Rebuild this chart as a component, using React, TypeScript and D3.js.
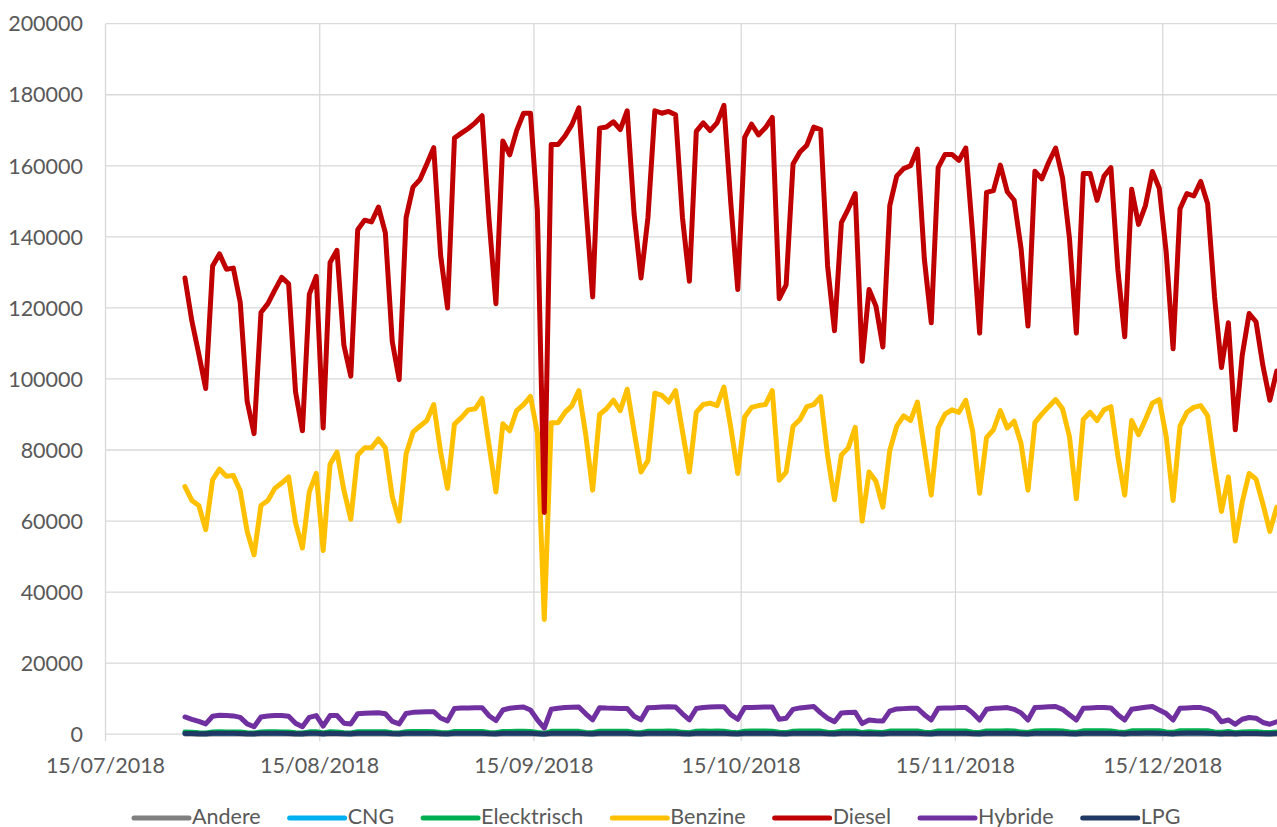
import React from 'react';
import * as d3 from 'd3';

// ---- categories / ticks ----
const START_DATE = '26/07/2018';
const DAY_COUNT = 159; // daily observations 26/07/2018 .. 31/12/2018
const AXIS_START = '15/07/2018';
const AXIS_END = '15/01/2019';
const xTickLabels = ['15/07/2018', '15/08/2018', '15/09/2018', '15/10/2018', '15/11/2018', '15/12/2018'];
const yTicks = [0, 20000, 40000, 60000, 80000, 100000, 120000, 140000, 160000, 180000, 200000];

// ---- series values ----
const andere = [
  40, 36, 20, 15, 44, 45, 42,
  41, 37, 19, 14, 45, 46, 44,
  42, 38, 20, 15, 46, 47, 18,
  44, 40, 21, 16, 48, 49, 47,
  45, 41, 22, 16, 49, 50, 48,
  46, 42, 22, 17, 50, 51, 50,
  47, 43, 23, 17, 51, 52, 51,
  48, 44, 23, 11, 52, 53, 52,
  49, 45, 24, 18, 53, 54, 53,
  50, 46, 24, 18, 53, 54, 54,
  51, 46, 24, 18, 54, 55, 54,
  51, 47, 25, 19, 54, 55, 55,
  52, 47, 25, 19, 55, 56, 55,
  52, 48, 25, 19, 55, 56, 56,
  26, 38, 25, 19, 56, 57, 57,
  57, 49, 26, 19, 57, 57, 58,
  57, 50, 26, 19, 57, 58, 58,
  58, 50, 26, 20, 58, 58, 59,
  59, 51, 26, 20, 58, 59, 59,
  59, 51, 27, 20, 59, 59, 60,
  60, 52, 27, 20, 59, 60, 60,
  60, 52, 27, 21, 46, 20, 34,
  42, 41, 25, 20, 38,
];
const cng = [
  310, 290, 170, 130, 320, 330, 325,
  315, 295, 165, 125, 325, 335, 330,
  320, 300, 170, 130, 330, 340, 150,
  330, 310, 175, 135, 340, 345, 340,
  335, 315, 180, 135, 345, 350, 345,
  340, 320, 180, 140, 350, 355, 350,
  345, 320, 185, 140, 355, 360, 355,
  350, 325, 185, 90, 360, 365, 360,
  355, 330, 190, 145, 365, 370, 365,
  360, 335, 190, 145, 365, 370, 370,
  365, 340, 190, 145, 370, 375, 370,
  365, 340, 195, 150, 370, 375, 375,
  370, 345, 195, 150, 375, 380, 375,
  370, 345, 195, 150, 375, 380, 380,
  185, 265, 190, 145, 380, 385, 385,
  385, 350, 200, 150, 385, 385, 390,
  385, 355, 200, 150, 390, 390, 390,
  390, 355, 200, 155, 390, 395, 395,
  395, 360, 205, 155, 395, 395, 400,
  395, 360, 205, 155, 400, 400, 400,
  400, 365, 205, 155, 400, 405, 405,
  405, 365, 210, 160, 320, 160, 240,
  290, 285, 200, 160, 270,
];
const elecktrisch = [
  610, 580, 390, 330, 640, 660, 650,
  630, 600, 380, 320, 650, 670, 660,
  640, 610, 390, 330, 660, 680, 350,
  670, 650, 420, 360, 700, 720, 710,
  700, 680, 430, 370, 720, 740, 750,
  740, 720, 450, 380, 760, 780, 770,
  790, 760, 470, 400, 780, 790, 800,
  810, 780, 480, 250, 800, 820, 810,
  830, 800, 500, 410, 820, 840, 830,
  850, 820, 510, 420, 830, 850, 860,
  870, 840, 520, 430, 850, 870, 860,
  880, 850, 530, 440, 860, 880, 870,
  890, 860, 540, 450, 860, 880, 890,
  900, 870, 550, 460, 880, 890, 900,
  450, 700, 560, 460, 880, 900, 910,
  920, 880, 570, 470, 890, 910, 920,
  930, 900, 580, 480, 900, 920, 930,
  940, 910, 590, 490, 920, 940, 950,
  960, 920, 600, 500, 940, 950, 960,
  970, 930, 610, 510, 950, 970, 980,
  990, 950, 620, 520, 960, 980, 990,
  1000, 950, 640, 530, 760, 420, 600,
  700, 680, 520, 450, 640,
];
const benzine = [
  69700, 65800, 64400, 57600, 71600, 74600, 72600,
  72800, 68500, 57100, 50500, 64400, 65800, 69200,
  70700, 72400, 59500, 52400, 68300, 73400, 51700,
  76000, 79400, 68700, 60500, 78600, 80600, 80600,
  83100, 80600, 66800, 60000, 78900, 85000, 86700,
  88300, 92800, 79400, 69200, 87300, 89100, 91300,
  91600, 94500, 81400, 68200, 87400, 85400, 91100,
  92800, 95100, 84800, 32300, 87700, 87700, 90600,
  92500, 96700, 84300, 68700, 90000, 91600, 94000,
  91100, 97100, 85200, 73800, 77000, 96000, 95400,
  93500, 96700, 85200, 73800, 90600, 92800, 93200,
  92500, 97700, 86200, 73400, 89300, 92000, 92500,
  92800, 96700, 71500, 73800, 86700, 88600, 92200,
  92800, 95000, 78400, 66000, 78600, 80600, 86400,
  60000, 73800, 71200, 63900, 79900, 86700, 89600,
  88300, 93500, 80400, 67300, 86200, 90100, 91300,
  90600, 94000, 85200, 67800, 83500, 85700, 91100,
  86200, 88100, 81800, 68700, 87700, 90100, 92200,
  94200, 91600, 83800, 66300, 88600, 90600, 88300,
  91300, 92200, 78400, 67300, 88300, 84300, 88600,
  93200, 94200, 83800, 65800, 86700, 90600, 92000,
  92500, 89600, 75500, 62700, 72400, 54400, 65300,
  73400, 71800, 64800, 57100, 63900,
];
const diesel = [
  128400, 116300, 107000, 97300, 131800, 135200, 130900,
  131200, 121500, 93700, 84600, 118700, 121200, 125000,
  128600, 126800, 96400, 85400, 123900, 128900, 86200,
  132800, 136200, 109500, 100800, 142000, 144700, 144200,
  148400, 141100, 110500, 99800, 145400, 154000, 156100,
  160500, 165100, 134800, 120000, 167800, 169200, 170500,
  172100, 174100, 145000, 121200, 167000, 163100, 169900,
  174800, 174800, 147400, 62400, 166000, 166000, 168400,
  171600, 176300, 149300, 123100, 170600, 170900, 172400,
  170200, 175500, 146400, 128400, 145400, 175500, 174800,
  175300, 174400, 145400, 127500, 169700, 172100, 169900,
  172100, 177000, 149300, 125200, 168000, 171700, 168700,
  170700, 173600, 122600, 126500, 160500, 163900, 165800,
  170900, 170200, 131800, 113600, 144000, 147900, 152200,
  105000, 125200, 120500, 109000, 148800, 157100, 159200,
  160000, 164700, 133800, 115800, 159500, 163200, 163200,
  161500, 165000, 140600, 112900, 152500, 153000, 160200,
  152700, 150300, 136700, 114900, 158500, 156300, 161000,
  165000, 156600, 139600, 112900, 157800, 157800, 150300,
  157100, 159500, 130900, 111900, 153400, 143500, 148800,
  158400, 153700, 135700, 108500, 147900, 152200, 151500,
  155600, 149300, 123100, 103200, 115800, 85700, 106600,
  118400, 116100, 103700, 94000, 102200,
];
const hybride = [
  4850, 4200, 3600, 2900, 5050, 5350, 5250,
  5150, 4750, 2900, 2100, 4850, 5100, 5250,
  5250, 5050, 3100, 2100, 4750, 5250, 2300,
  5250, 5250, 3100, 2900, 5750, 5900, 6000,
  6050, 5750, 3600, 2900, 5850, 6150, 6250,
  6300, 6350, 4550, 3750, 7250, 7350, 7400,
  7450, 7450, 5200, 3850, 6800, 7300, 7500,
  7650, 6800, 4050, 1700, 7000, 7300, 7500,
  7600, 7650, 5750, 4050, 7450, 7350, 7300,
  7250, 7250, 5050, 4050, 7450, 7550, 7650,
  7700, 7650, 5750, 4050, 7250, 7500, 7650,
  7700, 7750, 5500, 4200, 7500, 7550, 7600,
  7650, 7650, 4200, 4500, 7000, 7400, 7600,
  7800, 6000, 4500, 3500, 6000, 6100, 6200,
  3000, 4000, 3800, 3700, 6500, 7100, 7200,
  7300, 7300, 5500, 4000, 7300, 7400, 7400,
  7500, 7500, 6000, 4000, 7000, 7300, 7400,
  7500, 7000, 6000, 4000, 7500, 7600, 7700,
  7800, 7000, 5500, 4000, 7300, 7400, 7500,
  7500, 7400, 5500, 4000, 7000, 7300, 7600,
  7800, 6800, 5800, 4000, 7300, 7400, 7500,
  7500, 7000, 6000, 3500, 4000, 2800, 4200,
  4700, 4500, 3300, 2800, 3500,
];
const lpg = [
  230, 210, 130, 100, 240, 250, 240,
  235, 215, 125, 95, 245, 250, 245,
  240, 220, 130, 100, 245, 255, 110,
  250, 230, 135, 105, 255, 260, 255,
  250, 235, 140, 105, 260, 265, 260,
  255, 240, 140, 110, 265, 270, 265,
  260, 240, 145, 110, 265, 270, 270,
  265, 245, 145, 70, 270, 275, 270,
  270, 250, 150, 115, 275, 280, 275,
  270, 250, 150, 115, 275, 280, 280,
  275, 255, 150, 115, 280, 285, 280,
  275, 255, 155, 120, 280, 285, 285,
  280, 260, 155, 120, 280, 285, 285,
  280, 260, 155, 120, 285, 290, 285,
  140, 200, 150, 115, 285, 290, 290,
  290, 265, 155, 120, 290, 290, 295,
  290, 265, 160, 120, 290, 295, 295,
  295, 270, 160, 125, 295, 295, 300,
  300, 270, 160, 125, 295, 300, 300,
  300, 275, 165, 125, 300, 300, 305,
  305, 275, 165, 125, 300, 305, 305,
  305, 280, 165, 130, 240, 120, 180,
  220, 215, 150, 120, 200,
];

const seriesNames = ['Andere', 'CNG', 'Elecktrisch', 'Benzine', 'Diesel', 'Hybride', 'LPG'];
const seriesColors = ['#808080', '#00B0F0', '#00B050', '#FFC000', '#C00000', '#7030A0', '#203864'];
const seriesValues = [andere, cng, elecktrisch, benzine, diesel, hybride, lpg];

const FONT = 'Lato, "Open Sans", sans-serif';
const FONT_SIZE = 21.5;
const TEXT_COLOR = '#595959';
const GRID = '#D9D9D9';

const parseDate = d3.utcParse('%d/%m/%Y');
const DAY_MS = 86400000;

function measure(text: string): number {
  if (typeof document === 'undefined') return text.length * 11;
  const c = document.createElement('canvas').getContext('2d');
  if (!c) return text.length * 11;
  c.font = `${FONT_SIZE}px Lato`;
  return c.measureText(text).width;
}

export default function App() {
  const W = 1277;
  const H = 827;
  const plotLeft = 105.5;
  const pxPerDay = 6.91;
  const firstTick = parseDate(AXIS_START) as Date;
  const lastTick = parseDate(AXIS_END) as Date;
  const spanDays = (lastTick.getTime() - firstTick.getTime()) / DAY_MS;

  const x = d3.scaleUtc().domain([firstTick, lastTick]).range([plotLeft, plotLeft + spanDays * pxPerDay]);
  const y = d3.scaleLinear().domain([0, 200000]).range([734.2, 23.7]);

  const start = (parseDate(START_DATE) as Date).getTime();
  const dates = d3.range(DAY_COUNT).map((i) => new Date(start + i * DAY_MS + DAY_MS / 2));

  const line = d3
    .line<number>()
    .x((_, i) => x(dates[i]))
    .y((v) => y(v));

  const plotRight = W + 200;

  // legend layout
  const legendY = 818;
  const sampleLen = 55;
  const textGap = 3;
  const itemGap = 29;
  let cursor = 134;
  const legendItems = seriesNames.map((name, i) => {
    const item = { name, color: seriesColors[i], x: cursor };
    cursor += sampleLen + textGap + measure(name) + itemGap;
    return item;
  });

  return (
    <svg
      width={W}
      height={H}
      style={{ position: 'absolute', left: 0, top: 0, background: '#fff', fontFamily: FONT }}
    >
      <rect x={0} y={0} width={W} height={H} fill="#fff" />
      {/* horizontal gridlines */}
      {yTicks.map((t) => (
        <line key={'h' + t} x1={plotLeft} x2={plotRight} y1={y(t)} y2={y(t)} stroke={GRID} strokeWidth={1.3} />
      ))}
      {/* vertical gridlines + tick marks */}
      {xTickLabels.map((lbl) => {
        const xx = x(parseDate(lbl) as Date);
        return (
          <g key={'v' + lbl}>
            <line x1={xx} x2={xx} y1={y(200000)} y2={y(0)} stroke={GRID} strokeWidth={1.3} />
            <line x1={xx} x2={xx} y1={y(0)} y2={y(0) + 7} stroke={GRID} strokeWidth={1.3} />
          </g>
        );
      })}
      {/* y labels */}
      {yTicks.map((t) => (
        <text
          key={'yl' + t}
          x={83}
          y={y(t)}
          dy="0.36em"
          textAnchor="end"
          fontSize={FONT_SIZE}
          fill={TEXT_COLOR}
        >
          {t}
        </text>
      ))}
      {/* x labels */}
      {xTickLabels.map((lbl) => (
        <text
          key={'xl' + lbl}
          x={x(parseDate(lbl) as Date)}
          y={772.5}
          textAnchor="middle"
          fontSize={FONT_SIZE}
          fill={TEXT_COLOR}
        >
          {lbl}
        </text>
      ))}
      {/* series */}
      {seriesValues.map((vals, i) => (
        <path
          key={seriesNames[i]}
          d={line(vals) || ''}
          fill="none"
          stroke={seriesColors[i]}
          strokeWidth={5}
          strokeLinejoin="round"
          strokeLinecap="round"
        />
      ))}
      {/* legend */}
      {legendItems.map((it) => (
        <g key={'lg' + it.name}>
          <line
            x1={it.x}
            x2={it.x + sampleLen}
            y1={legendY}
            y2={legendY}
            stroke={it.color}
            strokeWidth={5}
            strokeLinecap="round"
          />
          <text x={it.x + sampleLen + textGap} y={823.5} fontSize={FONT_SIZE} fill={TEXT_COLOR}>
            {it.name}
          </text>
        </g>
      ))}
    </svg>
  );
}
